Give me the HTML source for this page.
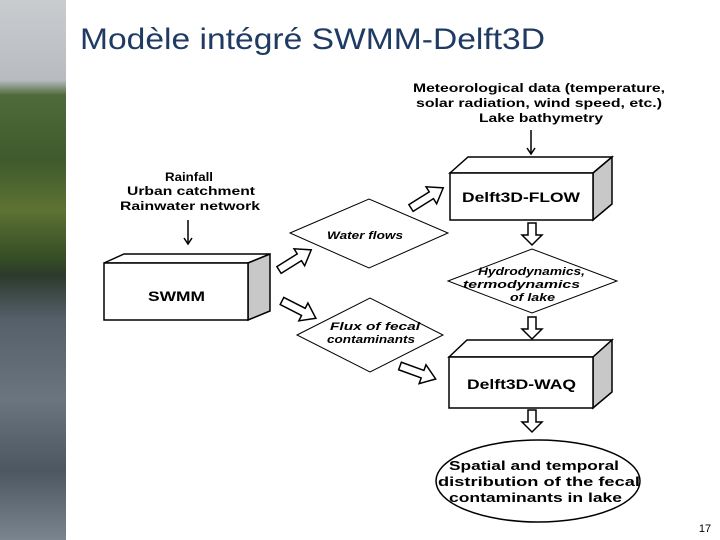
<!DOCTYPE html>
<html><head><meta charset="utf-8"><style>
body{margin:0;width:720px;height:540px;background:#fff;overflow:hidden;position:relative;font-family:"Liberation Sans",sans-serif}
#photo{position:absolute;left:0;top:0;width:66px;height:540px;background:linear-gradient(#c9cccf 0,#b8bcc0 80px,#4f6a3a 95px,#3f5a2c 160px,#5d7233 210px,#324a25 262px,#2c3a2c 275px,#55606a 320px,#6b7580 400px,#4d5762 470px,#7a848e 540px)}
</style></head><body>
<div id="photo"></div>
<svg width="720" height="540" style="position:absolute;left:0;top:0" font-family="Liberation Sans,sans-serif" font-weight="bold">
<defs>
<polygon id="ba" points="0,-4 24,-4 24,-10 38,0 24,10 24,4 0,4" fill="#fff" stroke="#000" stroke-width="1.5"/>
<polygon id="da" points="-4,0 4,0 4,12 10,12 0,22 -10,12 -4,12" fill="#fff" stroke="#000" stroke-width="1.5"/>
</defs>
<text x="80" y="49" font-size="30" font-weight="normal" fill="#1f3b63" textLength="465" lengthAdjust="spacingAndGlyphs">Modèle intégré SWMM-Delft3D</text>
<g stroke="#000" stroke-width="1.5">
<polygon points="104,263 124,254 270,254 248,263" fill="#fff"/>
<polygon points="248,263 270,254 270,311 248,320" fill="#c8c8c8"/>
<rect x="104" y="263" width="144" height="57" fill="#fff"/>
<polygon points="450,173 468,157 612,157 593,173" fill="#fff"/>
<polygon points="593,173 612,157 612,204 593,220" fill="#c8c8c8"/>
<rect x="450" y="173" width="143" height="47" fill="#fff"/>
<polygon points="449,357 467,340 612,340 593,357" fill="#fff"/>
<polygon points="593,357 612,340 612,392 593,408" fill="#c8c8c8"/>
<rect x="449" y="357" width="144" height="51" fill="#fff"/>
<polygon points="290,233 369,199 448,233 369,268" fill="#fff" stroke-width="1"/>
<polygon points="448,281 532,249 617,281 532,313" fill="#fff" stroke-width="1"/>
<polygon points="297,335 370,298 443,335 370,372" fill="#fff" stroke-width="1"/>
<ellipse cx="538" cy="481" rx="102" ry="41" fill="#fff"/>
<line x1="531" y1="130" x2="531" y2="153"/><polyline points="527,148 531,154 535,148" fill="none"/>
<line x1="188" y1="220" x2="188" y2="243"/><polyline points="184,238 188,244 192,238" fill="none"/>
</g>
<use href="#ba" transform="translate(279,270) rotate(-32)"/>
<use href="#ba" transform="translate(282,301) rotate(27)"/>
<use href="#ba" transform="translate(400,366) rotate(20)"/>
<use href="#ba" transform="translate(411,208) rotate(-32)"/>
<use href="#da" transform="translate(532,223)"/>
<use href="#da" transform="translate(532,317)"/>
<use href="#da" transform="translate(532,410)"/>
<g font-size="12" fill="#000">
<text x="413" y="92" textLength="252" lengthAdjust="spacingAndGlyphs">Meteorological data (temperature,</text>
<text x="416" y="107" textLength="246" lengthAdjust="spacingAndGlyphs">solar radiation, wind speed, etc.)</text>
<text x="479" y="122" textLength="124" lengthAdjust="spacingAndGlyphs">Lake bathymetry</text>
<text x="165" y="181" textLength="48" lengthAdjust="spacingAndGlyphs">Rainfall</text>
<text x="127" y="195" textLength="128" lengthAdjust="spacingAndGlyphs">Urban catchment</text>
<text x="120" y="210" textLength="140" lengthAdjust="spacingAndGlyphs">Rainwater network</text>
<text x="148" y="301" font-size="14" textLength="57" lengthAdjust="spacingAndGlyphs">SWMM</text>
<text x="462" y="202" font-size="14" textLength="118" lengthAdjust="spacingAndGlyphs">Delft3D-FLOW</text>
<text x="467" y="389" font-size="14" textLength="109" lengthAdjust="spacingAndGlyphs">Delft3D-WAQ</text>
<g font-style="italic" font-size="11">
<text x="327" y="239" textLength="76" lengthAdjust="spacingAndGlyphs">Water flows</text>
<text x="478" y="275" textLength="107" lengthAdjust="spacingAndGlyphs">Hydrodynamics,</text>
<text x="463" y="288" textLength="117" lengthAdjust="spacingAndGlyphs">termodynamics</text>
<text x="510" y="301" textLength="45" lengthAdjust="spacingAndGlyphs">of lake</text>
<text x="330" y="330" textLength="90" lengthAdjust="spacingAndGlyphs">Flux of fecal</text>
<text x="327" y="343" textLength="88" lengthAdjust="spacingAndGlyphs">contaminants</text>
</g>
<text x="449" y="470" font-size="13" textLength="170" lengthAdjust="spacingAndGlyphs">Spatial and temporal</text>
<text x="438" y="486" font-size="13" textLength="202" lengthAdjust="spacingAndGlyphs">distribution of the fecal</text>
<text x="449" y="502" font-size="13" textLength="173" lengthAdjust="spacingAndGlyphs">contaminants in lake</text>
</g>
<text x="705" y="532" font-size="11" font-weight="normal" text-anchor="middle">17</text>
</svg>
</body></html>
